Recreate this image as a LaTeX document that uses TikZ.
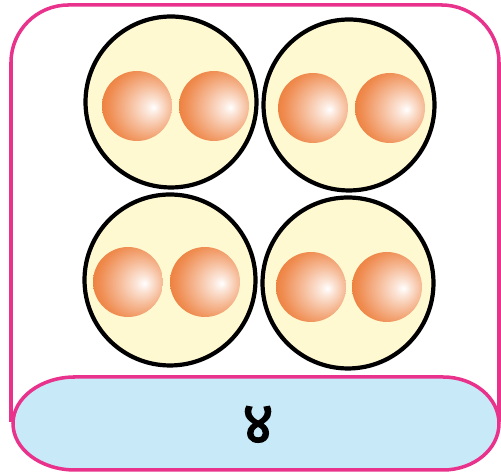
\documentclass[tikz,border=0pt]{standalone}
\usepackage{fontspec}
\newfontfamily\devfont[Script=Devanagari, FakeBold=2.5]{Noto Sans}
\usepackage{tikz}
\usetikzlibrary{positioning}

\definecolor{framepink}{RGB}{232,50,140}
\definecolor{cellfill}{RGB}{255,249,210}
\definecolor{bandblue}{RGB}{200,234,248}
\definecolor{orbedge}{RGB}{236,116,44}
\pgfdeclareradialshading{orbshade}{\pgfpoint{12bp}{-1bp}}{color(0bp)=(white); color(5bp)=(orbedge!18!white); color(15bp)=(orbedge!48!white); color(27bp)=(orbedge!82!white); color(36bp)=(orbedge); color(60bp)=(orbedge)}

\begin{document}
\begin{tikzpicture}[x=0.02cm, y=0.02cm,
    cell/.style={circle, draw=black, line width=2.4pt, fill=cellfill, minimum size=3.42cm, inner sep=0pt},
    orb/.style={circle, shading=orbshade, minimum size=1.4cm, inner sep=0pt},
    rim/.style={draw=framepink, line width=2pt}]
      \useasboundingbox (0,0) rectangle (501,472);

      \draw[rim, rounded corners=1.15cm] (11,50) -- (11,467) -- (499,467) -- (499,50);
      \draw[rim, fill=bandblue] (75,95) -- (443,95) arc[start angle=90, end angle=-90, x radius=56, y radius=46.5]
        -- (75,2) arc[start angle=270, end angle=90, x radius=62, y radius=46.5] -- cycle;

      \node[cell] (c1) at (171,370) {};
      \node[cell] (c2) at (349,367) {};
      \node[cell] (c3) at (170,192) {};
      \node[cell] (c4) at (348,189) {};

      \node[orb] (o1a) at (137,366) {};
      \node[orb] (o1b) at (214,366) {};
      \node[orb] (o2a) at (313,364) {};
      \node[orb] (o2b) at (390,364) {};
      \node[orb] (o3a) at (128,190) {};
      \node[orb] (o3b) at (205,190) {};
      \node[orb] (o4a) at (311,185) {};
      \node[orb] (o4b) at (387,185) {};

      \node[font=\devfont\fontsize{34}{40}\selectfont] (num) at (258,47) {४};
    \end{tikzpicture}
\end{document}
